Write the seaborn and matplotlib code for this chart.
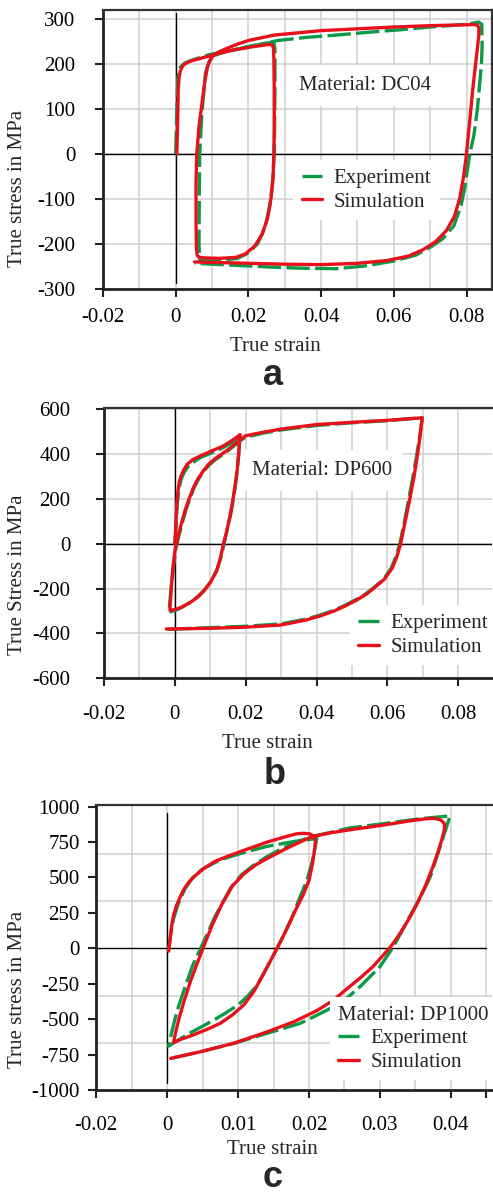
import numpy as np
import pandas as pd
import matplotlib
matplotlib.use("Agg")
import matplotlib.pyplot as plt
import seaborn as sns
from matplotlib.ticker import MultipleLocator, FixedLocator, FixedFormatter, FuncFormatter

# ---------------- data ----------------
series_names = ["Experiment", "Simulation"]

# Panel a: DC04
a_exp_strain = [0.0000, 0.0003, 0.0006, 0.0012, 0.0025, 0.005, 0.009, 0.013, 0.0165, 0.021, 0.0255, 0.0270,
                0.0273, 0.0273, 0.0272, 0.0271, 0.0266, 0.0259, 0.0245, 0.0225, 0.0200, 0.0170, 0.0130, 0.0090,
                0.0066, 0.0064, 0.0065, 0.0066, 0.0072, 0.0082, 0.0092, 0.0107, 0.0140, 0.0180, 0.0230, 0.0280,
                0.0360, 0.0440, 0.0540, 0.0620, 0.0700, 0.0800, 0.0833, 0.0842, 0.0843, 0.0841, 0.0830, 0.0820,
                0.0809, 0.0795, 0.0785, 0.0765, 0.0735, 0.0705, 0.0660, 0.0600, 0.0520, 0.0440, 0.0350, 0.0250,
                0.0150, 0.0052]
a_exp_stress = [0, 100, 170, 192, 202, 210, 220, 227, 232, 240, 247, 247,
                235, 150, 50, 0, -70, -115, -165, -200, -220, -232, -236, -237,
                -236, -200, -100, 0, 90, 180, 205, 219, 228, 235, 243, 252,
                259, 264, 271, 276, 282, 288, 293, 288, 240, 200, 100, 40,
                0, -75, -115, -160, -188, -205, -225, -238, -249, -255, -254, -251,
                -247, -243]
a_sim_strain = [0.0003, 0.0005, 0.0007, 0.0009, 0.0012, 0.0017, 0.0025, 0.0040, 0.0080, 0.0117, 0.0160, 0.0210,
                0.0245, 0.0258, 0.0265, 0.0269, 0.0270, 0.0271, 0.0271, 0.0270, 0.0268, 0.0262, 0.0252, 0.0237,
                0.0217, 0.0192, 0.0165, 0.0120, 0.0080, 0.0065, 0.0059, 0.0057, 0.0056, 0.0056, 0.0058, 0.0064,
                0.0071, 0.0080, 0.0087, 0.0094, 0.0103, 0.0117, 0.0145, 0.0170, 0.0200, 0.0270, 0.0400, 0.0500,
                0.0600, 0.0700, 0.0800, 0.0822, 0.0830, 0.0834, 0.0834, 0.0830, 0.0825, 0.0818, 0.0812, 0.0806,
                0.0800, 0.0792, 0.0781, 0.0766, 0.0745, 0.0715, 0.0680, 0.0640, 0.0580, 0.0500, 0.0400, 0.0300,
                0.0200, 0.0100, 0.0052]
a_sim_stress = [0, 60, 140, 168, 182, 193, 200, 206, 215, 223, 231, 238,
                242, 243.5, 242, 236, 215, 150, 50, 0, -50, -100, -145, -180,
                -205, -222, -230, -232, -231, -230, -225, -210, -150, -60, 0, 60,
                104, 160, 192, 208, 218, 226, 236, 244, 252, 264, 274, 278,
                282, 285, 287, 287.5, 286, 280, 265, 235, 200, 150, 100, 50,
                0, -50, -100, -140, -170, -195, -213, -227, -237, -243, -246, -245,
                -243, -241, -240]

# Panel b: DP600
b_exp_strain = [0.0000, 0.0003, 0.0005, 0.0008, 0.0012, 0.0018, 0.0026, 0.0036, 0.0050, 0.0072, 0.0100, 0.0135,
                0.0160, 0.0178, 0.0183, 0.0182, 0.0179, 0.0174, 0.0168, 0.0160, 0.0150, 0.0139, 0.0130, 0.0119,
                0.0103, 0.0084, 0.0065, 0.0042, 0.0018, 0.0000, -0.0017, -0.0013, -0.0009, -0.0004, 0.0003, 0.0012,
                0.0022, 0.0032, 0.0042, 0.0054, 0.0067, 0.0082, 0.0097, 0.0114, 0.0132, 0.0152, 0.0172, 0.0187,
                0.0200, 0.0250, 0.0300, 0.0400, 0.0500, 0.0600, 0.0698, 0.0691, 0.0683, 0.0672, 0.0660, 0.0648,
                0.0635, 0.0623, 0.0610, 0.0588, 0.0558, 0.0537, 0.0510, 0.0478, 0.0450, 0.0410, 0.0370, 0.0300,
                0.0200, 0.0100, -0.0024]
b_exp_stress = [0, 70, 140, 200, 250, 290, 318, 342, 362, 385, 403, 428,
                450, 466, 472, 440, 380, 300, 230, 150, 80, 0, -60, -115,
                -165, -205, -235, -262, -285, -298, -305, -240, -170, -100, -20, 40,
                100, 155, 200, 250, 290, 325, 352, 375, 395, 418, 443, 463,
                476, 494, 508, 528, 540, 549, 563, 480, 400, 300, 200, 100,
                0, -60, -110, -160, -200, -225, -250, -276, -296, -318, -336, -357,
                -368, -374, -382]
b_sim_strain = [0.0000, 0.0002, 0.0004, 0.0006, 0.0009, 0.0013, 0.0018, 0.0025, 0.0035, 0.0050, 0.0072, 0.0100,
                0.0135, 0.0155, 0.0170, 0.0180, 0.0184, 0.0183, 0.0180, 0.0176, 0.0170, 0.0163, 0.0155, 0.0146,
                0.0137, 0.0129, 0.0118, 0.0101, 0.0082, 0.0063, 0.0040, 0.0016, 0.0000, -0.0014, -0.0012, -0.0009,
                -0.0005, 0.0001, 0.0010, 0.0020, 0.0030, 0.0040, 0.0052, 0.0065, 0.0080, 0.0095, 0.0112, 0.0130,
                0.0150, 0.0170, 0.0185, 0.0200, 0.0250, 0.0300, 0.0400, 0.0500, 0.0600, 0.0698, 0.0692, 0.0685,
                0.0675, 0.0663, 0.0650, 0.0637, 0.0626, 0.0613, 0.0590, 0.0560, 0.0540, 0.0514, 0.0480, 0.0449,
                0.0410, 0.0370, 0.0300, 0.0200, 0.0100, -0.0024]
b_sim_stress = [0, 60, 130, 190, 240, 280, 305, 330, 355, 375, 392, 412,
                435, 455, 470, 482, 487, 470, 400, 330, 260, 190, 120, 55,
                0, -60, -120, -170, -210, -240, -265, -285, -293, -297, -240, -170,
                -100, -20, 40, 100, 155, 200, 250, 290, 325, 355, 378, 398,
                420, 445, 465, 482, 498, 512, 532, 542, 551, 562, 480, 400,
                300, 200, 100, 0, -60, -110, -160, -200, -225, -250, -278, -300,
                -322, -340, -362, -372, -377, -380]

# Panel c: DP1000
c_exp_strain = [0.0002, 0.0005, 0.0009, 0.0016, 0.0025, 0.0036, 0.0050, 0.0075, 0.0105, 0.0141, 0.0180, 0.0211,
                0.0208, 0.0204, 0.0197, 0.0188, 0.0176, 0.0163, 0.0153, 0.0140, 0.0127, 0.0113, 0.0100, 0.0083,
                0.0068, 0.0050, 0.0035, 0.0018, 0.0002, 0.0006, 0.0011, 0.0016, 0.0022, 0.0029, 0.0036, 0.0050,
                0.0068, 0.0090, 0.0105, 0.0120, 0.0140, 0.0160, 0.0182, 0.0205, 0.0258, 0.0305, 0.0357, 0.0399,
                0.0385, 0.0371, 0.0359, 0.0347, 0.0333, 0.0319, 0.0300, 0.0272, 0.0255, 0.0235, 0.0212, 0.0188,
                0.0141, 0.0094, 0.0047, 0.0005]
c_exp_stress = [-20, 100, 210, 320, 420, 500, 560, 625, 672, 720, 755, 775,
                700, 600, 480, 370, 220, 80, -20, -140, -260, -340, -400, -455,
                -500, -550, -590, -640, -690, -600, -500, -410, -320, -220, -120, 30,
                230, 430, 520, 580, 645, 700, 750, 790, 850, 880, 915, 935,
                720, 505, 380, 270, 140, 11, -130, -271, -345, -412, -470, -529,
                -600, -671, -730, -777]
c_sim_strain = [0.0002, 0.0004, 0.0006, 0.0009, 0.0013, 0.0018, 0.0024, 0.0031, 0.0040, 0.0052, 0.0068, 0.0088,
                0.0110, 0.0141, 0.0165, 0.0182, 0.0192, 0.0201, 0.0207, 0.0209, 0.0208, 0.0205, 0.0200, 0.0192,
                0.0182, 0.0170, 0.0160, 0.0150, 0.0136, 0.0122, 0.0108, 0.0092, 0.0075, 0.0055, 0.0035, 0.0018,
                0.0009, 0.0012, 0.0017, 0.0024, 0.0033, 0.0042, 0.0052, 0.0064, 0.0077, 0.0092, 0.0108, 0.0125,
                0.0145, 0.0165, 0.0185, 0.0204, 0.0230, 0.0258, 0.0305, 0.0340, 0.0362, 0.0377, 0.0386, 0.0391,
                0.0391, 0.0388, 0.0382, 0.0375, 0.0365, 0.0352, 0.0340, 0.0329, 0.0318, 0.0305, 0.0290, 0.0272,
                0.0250, 0.0235, 0.0211, 0.0178, 0.0141, 0.0094, 0.0047, 0.0005]
c_sim_stress = [-20, 60, 150, 235, 300, 360, 420, 470, 515, 565, 615, 655,
                695, 750, 785, 808, 812, 808, 790, 755, 700, 600, 480, 380,
                280, 150, 50, -47, -180, -306, -400, -470, -529, -575, -615, -645,
                -666, -590, -490, -370, -230, -110, 20, 170, 310, 440, 525, 590,
                645, 697, 745, 788, 815, 837, 870, 898, 913, 918, 905, 880,
                840, 780, 680, 580, 450, 310, 200, 110, 30, -47, -130, -210,
                -300, -365, -440, -520, -590, -670, -730, -777]

materials = ["Material: DC04", "Material: DP600", "Material: DP1000"]
panel_letters = ["a", "b", "c"]
ylabels = ["True stress in MPa", "True Stress in MPa", "True stress in MPa"]
xlabel_text = "True strain"
c_xtick_values = [-0.01, 0.0, 0.01, 0.02, 0.03, 0.04, 0.045]
c_xtick_labels = ["-0.02", "0", "0.01", "0.02", "0.03", "0.04", ""]

# ---------------- style ----------------
sns.set_theme(style="white")
plt.rcParams["font.family"] = ["Liberation Serif", "DejaVu Serif"]
plt.rcParams["axes.unicode_minus"] = False

GREEN = "#0b9a48"
RED = "#e8111b"
palette = {"Experiment": GREEN, "Simulation": RED}
dash_map = {"Experiment": (7, 1.6), "Simulation": ""}
FS = 15
SPINE = "#222222"
GRID = "#cfcfcf"

fig = plt.figure(figsize=(4.93, 11.95), dpi=100)
ax_a = fig.add_axes([0.2089, 0.7582, 0.789, 0.2335])
ax_b = fig.add_axes([0.2110, 0.4324, 0.787, 0.2262])
ax_c = fig.add_axes([0.1953, 0.0879, 0.8026, 0.2385])


def make_df(ex, ey, sx, sy):
    d1 = pd.DataFrame({"strain": ex, "stress": ey, "series": series_names[0]})
    d2 = pd.DataFrame({"strain": sx, "stress": sy, "series": series_names[1]})
    return pd.concat([d1, d2], ignore_index=True)


fmt = FuncFormatter(lambda v, _: "0" if abs(v) < 1e-12 else f"{v:g}")


def style_axes(ax, df, xlim, ylim, right_spine, vline_span, hline_span):
    sns.lineplot(data=df, x="strain", y="stress", hue="series", style="series",
                 palette=palette, dashes=dash_map, sort=False, estimator=None,
                 linewidth=2.4, ax=ax, zorder=3)
    for ln in ax.get_lines():
        ln.set_solid_joinstyle("round")
        ln.set_dash_joinstyle("round")
    ax.set_xlim(*xlim)
    ax.set_ylim(*ylim)
    ax.set_axisbelow(True)
    ax.axhline(0, xmin=hline_span[0], xmax=hline_span[1], color="black", lw=1.0, zorder=1.5)
    ax.axvline(0, ymin=vline_span[0], ymax=vline_span[1], color="black", lw=1.0, zorder=1.5)
    for side in ["left", "bottom"]:
        ax.spines[side].set_color(SPINE)
        ax.spines[side].set_linewidth(2.0)
    ax.spines["top"].set_color("#333333")
    ax.spines["top"].set_linewidth(1.6)
    ax.spines["right"].set_visible(right_spine)
    ax.spines["right"].set_color("#333333")
    ax.spines["right"].set_linewidth(1.6)
    ax.tick_params(which="major", direction="out", length=6, width=1.5, color=SPINE,
                   labelsize=FS, labelcolor="black", left=True, bottom=True)
    ax.tick_params(which="minor", length=0)
    ax.grid(True, which="both", color=GRID, lw=1.1)
    h = ax.get_legend().legend_handles
    l = [t.get_text() for t in ax.get_legend().texts]
    return h, l


leg_kw = dict(borderaxespad=0, fontsize=FS, handlelength=1.0, handletextpad=0.55, labelspacing=0.2,
              borderpad=0.4, frameon=True, framealpha=1, facecolor="white", edgecolor="none",
              fancybox=False)

# ---- panel a ----
df_a = make_df(a_exp_strain, a_exp_stress, a_sim_strain, a_sim_stress)
h, l = style_axes(ax_a, df_a, (-0.02, 0.087), (-300, 320), True, (0.02, 0.989), (0, 1))
ax_a.xaxis.set_major_locator(MultipleLocator(0.02))
ax_a.xaxis.set_minor_locator(MultipleLocator(0.01))
ax_a.yaxis.set_major_locator(MultipleLocator(100))
ax_a.xaxis.set_major_formatter(fmt)
ax_a.yaxis.set_major_formatter(fmt)
ax_a.tick_params(axis="y", pad=14)
ax_a.tick_params(axis="x", pad=8)
ax_a.legend(h, l, loc="upper left", bbox_to_anchor=(0.489, 0.462), **leg_kw)
ax_a.text(0.673, 0.728, materials[0], transform=ax_a.transAxes, ha="center", va="center",
          fontsize=FS, bbox=dict(facecolor="white", edgecolor="none", pad=8), zorder=4)

# ---- panel b ----
df_b = make_df(b_exp_strain, b_exp_stress, b_sim_strain, b_sim_stress)
h, l = style_axes(ax_b, df_b, (-0.02, 0.0895), (-600, 606), False, (0, 1), (0, 1))
ax_b.xaxis.set_major_locator(MultipleLocator(0.02))
ax_b.xaxis.set_minor_locator(MultipleLocator(0.01))
ax_b.yaxis.set_major_locator(MultipleLocator(200))
ax_b.xaxis.set_major_formatter(fmt)
ax_b.yaxis.set_major_formatter(fmt)
ax_b.tick_params(axis="y", pad=18)
ax_b.tick_params(axis="x", pad=13)
ax_b.legend(h, l, loc="upper left", bbox_to_anchor=(0.633, 0.27), **leg_kw)
ax_b.text(0.562, 0.77, materials[1], transform=ax_b.transAxes, ha="center", va="center",
          fontsize=FS, bbox=dict(facecolor="white", edgecolor="none", pad=8), zorder=4)

# ---- panel c ----
df_c = make_df(c_exp_strain, c_exp_stress, c_sim_strain, c_sim_stress)
h, l = style_axes(ax_c, df_c, (-0.01, 0.0458), (-1000, 1012), False, (0.025, 0.972), (0, 0.984))
ax_c.xaxis.set_major_locator(FixedLocator(c_xtick_values))
ax_c.xaxis.set_major_formatter(FixedFormatter(c_xtick_labels))
ax_c.xaxis.set_minor_locator(MultipleLocator(0.005))
ax_c.yaxis.set_major_locator(MultipleLocator(250))
ax_c.yaxis.set_minor_locator(FixedLocator(list(np.linspace(-1000, 1000, 7))))
ax_c.yaxis.set_major_formatter(fmt)
ax_c.grid(False, which="major", axis="y")
ax_c.grid(True, which="minor", axis="y", color=GRID, lw=1.1)
ax_c.tick_params(axis="y", pad=6)
ax_c.tick_params(axis="x", pad=13)
ax_c.legend(h, l, loc="upper left", bbox_to_anchor=(0.59, 0.325), title=materials[2],
            title_fontsize=FS, alignment="left", **leg_kw)

# ---- labels ----
label_pos = {
    "a": (ax_a, (-0.195, 0.362), (0.442, -0.171)),
    "b": (ax_b, (-0.198, 0.382), (0.42, -0.206)),
    "c": (ax_c, (-0.175, 0.354), (0.444, -0.175)),
}
for i, key in enumerate(panel_letters):
    ax, ypos, xpos = label_pos[key]
    ax.set_ylabel(ylabels[i], fontsize=FS)
    ax.set_xlabel(xlabel_text, fontsize=FS)
    ax.yaxis.set_label_coords(*ypos)
    ax.xaxis.set_label_coords(*xpos)

letter_pos = [(0.554, 0.6778, "baseline"), (0.558, 0.344, "baseline"), (0.554, 0.0, "bottom")]
for letter, (x, y, va) in zip(panel_letters, letter_pos):
    fig.text(x, y, letter, ha="center", va=va, fontsize=26, fontweight="bold",
             family="Liberation Sans")

fig.savefig("out.png", dpi=100)
